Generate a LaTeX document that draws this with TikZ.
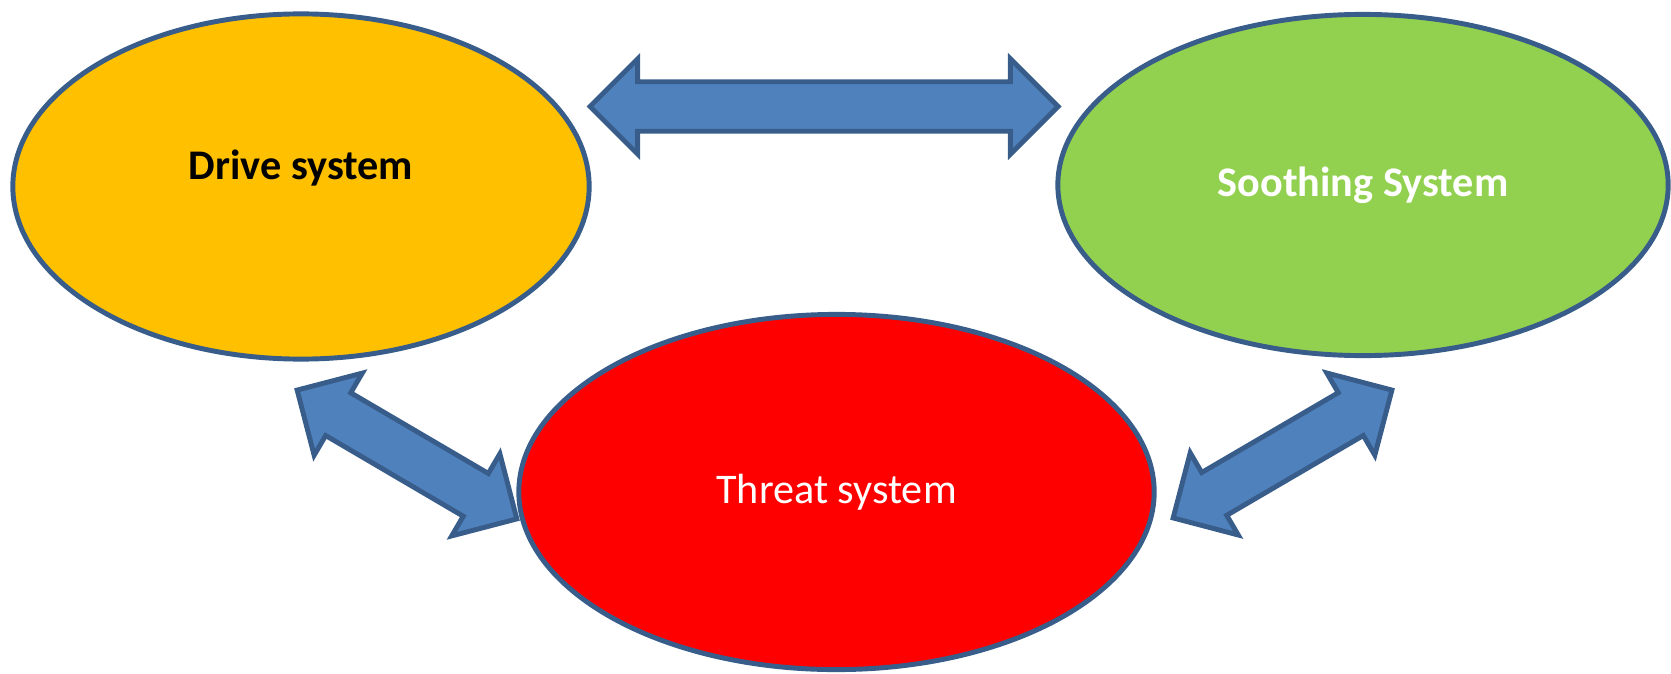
\documentclass[tikz,border=0pt]{standalone}
\usepackage{fontspec}
\setmainfont{Carlito}
\usetikzlibrary{shapes.geometric, shapes.arrows, calc}

\definecolor{driveorange}{HTML}{FFC000}
\definecolor{soothegreen}{HTML}{92D050}
\definecolor{threatred}{HTML}{FF0000}
\definecolor{arrowblue}{HTML}{4F81BD}
\definecolor{edgeblue}{HTML}{385D8A}

\tikzset{
  system/.style={ellipse, draw=edgeblue, line width=1.4pt, inner sep=0pt,
    font=\fontsize{12}{14}\selectfont},
  twoway/.style={double arrow, draw=edgeblue, fill=arrowblue, line width=1.4pt,
    inner xsep=0pt, inner ysep=0.223cm, double arrow head extend=0.228cm}
}

\newcommand{\linkarrow}[2]{%
  \path let \p1=($(#2)-(#1)$), \n1={atan2(\y1,\x1)}, \n2={veclen(\x1,\y1)} in
    node[twoway, rotate=\n1, minimum height=\n2] at ($(#1)!0.5!(#2)$) {};}

\begin{document}
\begin{tikzpicture}[x=0.01cm, y=-0.01cm]

    \useasboundingbox (0,0) rectangle (1671,673);

    \node[system, fill=driveorange, minimum width=5.76cm, minimum height=3.45cm,
      label={[yshift=0.18cm, font=\fontsize{12}{14}\selectfont\bfseries]center:Drive system}]
      (drive) at (301,186.5) {};
    \node[system, fill=soothegreen, minimum width=6.1cm, minimum height=3.41cm,
      text=white, font=\fontsize{12}{14}\selectfont\bfseries] (soothe) at (1363,185) {Soothing System};
    \node[system, fill=threatred, minimum width=6.35cm, minimum height=3.55cm,
      text=white] (threat) at (836.5,492) {Threat system};

    \coordinate (ds) at (590,106.5);
    \coordinate (sd) at (1058,106.5);
    \coordinate (dt) at (297,390);
    \coordinate (td) at (517,519);
    \coordinate (st) at (1392,390);
    \coordinate (ts) at (1173,518);

    \linkarrow{ds}{sd}
    \linkarrow{dt}{td}
    \linkarrow{st}{ts}

\end{tikzpicture}
\end{document}
